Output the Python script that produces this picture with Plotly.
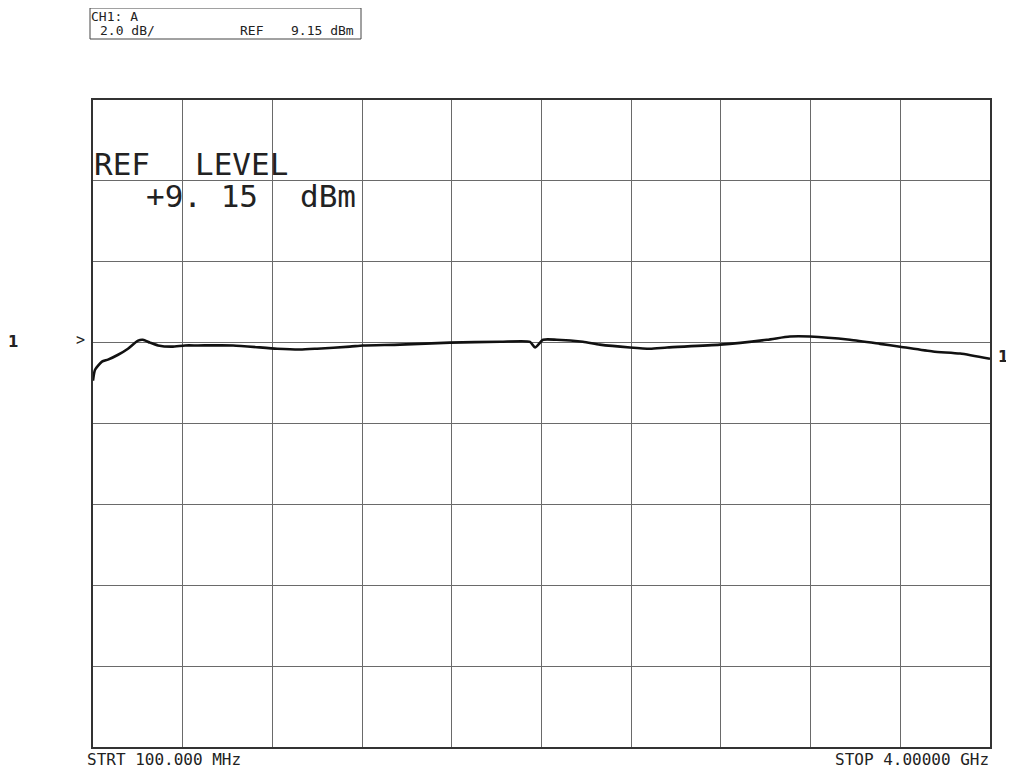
import plotly.graph_objects as go

# ---- data ----
freq_ghz = [0.100, 0.109, 0.139, 0.165, 0.209, 0.252, 0.296, 0.317, 0.348, 0.383,
            0.443, 0.500, 0.556, 0.709, 0.900, 1.000, 1.074, 1.217, 1.274, 1.435,
            1.652, 1.870, 2.000, 2.022, 2.057, 2.117, 2.230, 2.304, 2.435, 2.522,
            2.596, 2.826, 3.030, 3.130, 3.217, 3.391, 3.522, 3.609, 3.752, 3.870, 4.000]
level_dbm = [8.21, 8.48, 8.68, 8.73, 8.85, 9.00, 9.20, 9.22, 9.15, 9.08,
             9.05, 9.08, 9.08, 9.08, 9.00, 8.98, 9.00, 9.05, 9.08, 9.10,
             9.15, 9.17, 9.17, 9.03, 9.22, 9.22, 9.17, 9.10, 9.03, 9.00,
             9.03, 9.10, 9.22, 9.30, 9.30, 9.22, 9.12, 9.05, 8.93, 8.88, 8.75]

ref_level = 9.15
scale_db_div = 2.0
start_ghz = 0.1
stop_ghz = 4.0
ref_div_from_top = 3
n_ydiv = 8
n_xdiv = 10

y_top = ref_level + ref_div_from_top * scale_db_div
y_bot = y_top - n_ydiv * scale_db_div

# page has an 8px body margin; layout numbers below are in page pixels
OFF = 8
PAGE_W, PAGE_H = 1014, 773
W, H = PAGE_W - OFF, PAGE_H - OFF
PL, PR, PT, PB = 93, 990, 100, 747          # plot box in page pixels
ML, MT = PL - OFF, PT - OFF
MR = W - (PR - OFF)
MB = H - (PB - OFF)
PW, PH = PR - PL, PB - PT

def px(x):
    return (x - PL) / PW

def py(y):
    return (PB - y) / PH

grid_col = "#6a6a6a"
mono = "DejaVu Sans Mono"

fig = go.Figure()
fig.add_trace(go.Scatter(x=freq_ghz, y=level_dbm, mode="lines",
                         line=dict(color="#111111", width=2.6, shape="spline", smoothing=0.6),
                         hoverinfo="skip", showlegend=False))

fig.update_xaxes(range=[start_ghz, stop_ghz], tick0=start_ghz,
                 dtick=(stop_ghz - start_ghz) / n_xdiv, showticklabels=False,
                 showgrid=True, gridcolor=grid_col, gridwidth=1, zeroline=False,
                 showline=True, linecolor="#333333", linewidth=1.5, mirror=True, ticks="")
fig.update_yaxes(range=[y_bot, y_top], tick0=y_bot, dtick=scale_db_div,
                 showticklabels=False, showgrid=True, gridcolor=grid_col, gridwidth=1,
                 zeroline=False, showline=True, linecolor="#333333", linewidth=1.5,
                 mirror=True, ticks="")

ann = []
def text(t, x, y, size, xanchor="left", family=mono, color="#222222", bold=False):
    if bold:
        t = "<b>" + t + "</b>"
    ann.append(dict(text=t, x=px(x), y=py(y), xref="paper", yref="paper",
                    xanchor=xanchor, yanchor="middle", showarrow=False,
                    font=dict(family=family, size=size, color=color)))

# header box text
text("CH1: A", 89, 16, 13)
text("2.0 dB/", 98, 30, 13)
text("REF", 238, 30, 13)
text("9.15 dBm", 289, 30, 13)

# ref level text on the grid
text("REF", 92, 164, 31)
text("LEVEL", 193, 164, 31)
text("+9. 15", 144, 196, 31)
text("dBm", 298, 196, 31)

# channel markers
text("1", 13, 342, 15, xanchor="center", family="DejaVu Sans", bold=True)
text(">", 80, 340, 15, xanchor="center")
text("1", 996, 357, 15, xanchor="left", family="DejaVu Sans", bold=True)

# start/stop labels
text("STRT 100.000 MHz", 85, 759, 16)
text("STOP 4.00000 GHz", 991, 759, 16, xanchor="right")

fig.update_layout(
    width=W, height=H,
    margin=dict(l=ML, r=MR, t=MT, b=MB),
    paper_bgcolor="white", plot_bgcolor="white",
    annotations=ann,
    shapes=[dict(type="rect", xref="paper", yref="paper",
                 x0=px(90), x1=px(361), y0=py(8), y1=py(39),
                 line=dict(color="#444444", width=1))],
)

fig.write_html("out.html")
